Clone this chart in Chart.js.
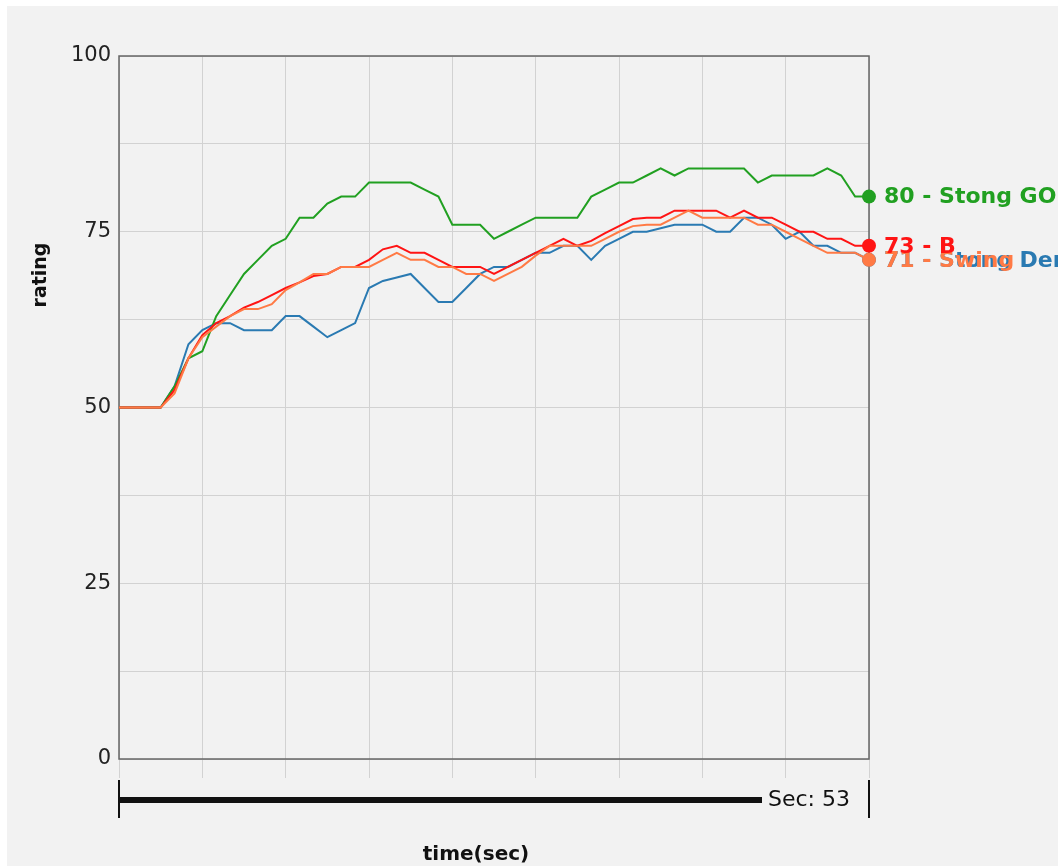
<!DOCTYPE html>
<html>
<head>
<meta charset="utf-8">
<script src="https://cdn.jsdelivr.net/npm/chart.js@4.4.1/dist/chart.umd.min.js"></script>
<style>
  html, body { margin: 0; padding: 0; background: #fff; }
  #panel { position: absolute; left: 7px; top: 6px; width: 1051px; height: 860px; background: #f2f2f2; }
  #wrap { position: absolute; left: 0; top: 0; width: 1058px; height: 866px; }
</style>
</head>
<body>
<div id="panel"></div>
<div id="wrap"><canvas id="ratingChart"></canvas></div>
<script>
// time axis (seconds) and the four rating series
const seconds = [0,1,2,3,4,5,6,7,8,9,10,11,12,13,14,15,16,17,18,19,20,21,22,23,24,25,26,27,28,29,30,31,32,33,34,35,36,37,38,39,40,41,42,43,44,45,46,47,48,49,50,51,52,53,54];

const stongGop = [50,50,50,50,53,57,58,63,66,69,71,73,74,77,77,79,80,80,82,82,82,82,81,80,76,76,76,74,75,76,77,77,77,77,80,81,82,82,83,84,83,84,84,84,84,84,82,83,83,83,83,84,83,80,80];
const bRating = [50,50,50,50,52.5,57,60.3,62,63,64.2,65,66,67,67.8,68.7,69,70,70,71,72.5,73,72,72,71,70,70,70,69,70,71,72,73,74,73,73.7,74.8,75.8,76.8,77,77,78,78,78,78,77,78,77,77,76,75,75,74,74,73,73];
const swing = [50,50,50,50,52,57,60,61.5,63,64,64,64.7,66.7,67.8,69,69,70,70,70,71,72,71,71,70,70,69,69,68,69,70,71.6,73,73,73,73,74,75,75.8,76,76,77,78,77,77,77,77,76,76,75,74,73,72,72,72,71];
const stongDem = [50,50,50,50,53,59,61,62,62,61,61,61,63,63,61.5,60,61,62,67,68,68.5,69,67,65,65,67,69,70,70,71,72,72,73,73,71,73,74,75,75,75.5,76,76,76,75,75,77,77,76,74,75,73,73,72,72,71];

const seriesNames = ['Stong GOP', 'B', 'Swing', 'Stong Dem'];
const seriesColors = ['#21a021', '#ff1414', '#ff7a45', '#2a7ab2'];
const seriesValues = [stongGop, bRating, swing, stongDem];
const currentSec = 53;

// index 0 ends up on top in Chart.js, so list them top-first
const lineOrder = [2, 1, 0, 3];
const labelOrder = [3, 2, 1, 0];

const lastIdx = seconds.length - 1;
const toPoints = (vals) => vals.map((v, i) => ({ x: seconds[i], y: v }));

const overlay = {
    id: 'overlay',
    beforeDatasetsDraw(chart) {
        const { ctx, chartArea: a } = chart;
        ctx.save();
        ctx.strokeStyle = '#666';
        ctx.lineWidth = 1.5;
        ctx.strokeRect(a.left, a.top, a.right - a.left, a.bottom - a.top);
        ctx.restore();
    },
    afterDraw(chart) {
        const { ctx, chartArea: a } = chart;
        ctx.save();

        // end-of-line labels
        ctx.font = 'bold 22px "DejaVu Sans"';
        ctx.textBaseline = 'middle';
        ctx.textAlign = 'left';
        labelOrder.forEach(s => {
            const di = lineOrder.indexOf(s);
            const pt = chart.getDatasetMeta(di).data[lastIdx];
            ctx.fillStyle = seriesColors[s];
            ctx.fillText(Math.round(seriesValues[s][lastIdx]) + ' - ' + seriesNames[s], pt.x + 15, pt.y + 1);
        });

        // time slider under the plot
        ctx.fillStyle = '#111';
        const sy = a.bottom + 41;
        const barEnd = a.right - 107;
        ctx.fillRect(a.left, sy - 3, barEnd - a.left, 6);
        ctx.fillRect(a.left - 1, sy - 20, 2, 38);
        ctx.fillRect(a.right - 1, sy - 20, 2, 38);
        ctx.font = '22px "DejaVu Sans"';
        ctx.textAlign = 'left';
        ctx.fillText('Sec: ' + currentSec, barEnd + 6, sy);

        // axis titles
        ctx.font = 'bold 20px "DejaVu Sans"';
        ctx.textAlign = 'center';
        ctx.fillText('time(sec)', 476, 855);
        ctx.translate(41, 275);
        ctx.rotate(-Math.PI / 2);
        ctx.font = 'bold 19px "DejaVu Sans"';
        ctx.fillText('rating', 0, 0);
        ctx.restore();
    }
};

new Chart(document.getElementById('ratingChart'), {
    type: 'line',
    data: {
        datasets: lineOrder.map(s => ({
            label: seriesNames[s],
            data: toPoints(seriesValues[s]),
            borderColor: seriesColors[s],
            backgroundColor: seriesColors[s],
            borderWidth: 2,
            tension: 0,
            fill: false,
            clip: false,
            pointRadius: (c) => c.dataIndex === lastIdx ? 7 : 0,
            pointBorderWidth: 0,
            pointBackgroundColor: seriesColors[s]
        }))
    },
    options: {
        responsive: true,
        maintainAspectRatio: false,
        animation: false,
        layout: { padding: { left: 0, top: 56, right: 189, bottom: 0 } },
        plugins: { legend: { display: false }, tooltip: { enabled: false } },
        scales: {
            x: {
                type: 'linear',
                min: 0,
                max: 54,
                afterFit: (s) => { s.height = 107; },
                ticks: { stepSize: 6, display: false },
                grid: { color: '#d2d2d2', lineWidth: 1, drawTicks: true, tickLength: 19 },
                border: { display: false }
            },
            y: {
                min: 0,
                max: 100,
                afterFit: (s) => { s.width = 119; },
                ticks: {
                    stepSize: 12.5,
                    autoSkip: false,
                    padding: 8,
                    color: '#222',
                    font: { family: 'DejaVu Sans', size: 21 },
                    callback: (v) => (v % 25 === 0 ? v : '')
                },
                grid: { color: '#d2d2d2', lineWidth: 1, drawTicks: false },
                border: { display: false }
            }
        }
    },
    plugins: [overlay]
});
</script>
</body>
</html>
